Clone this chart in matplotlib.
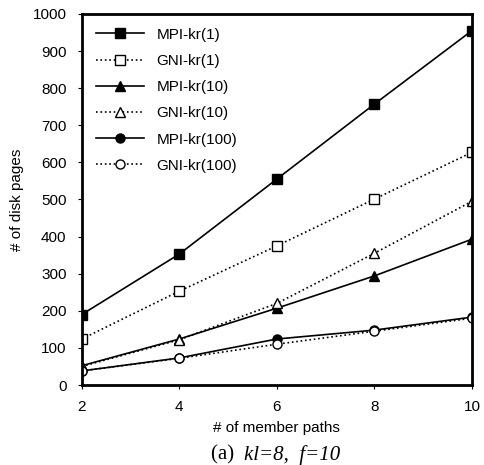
import matplotlib.pyplot as plt

x = [2, 4, 6, 8, 10]
mpi_1 = [190, 353, 555, 757, 955]
gni_1 = [124, 253, 375, 501, 627]
mpi_10 = [52, 124, 207, 294, 393]
gni_10 = [50, 122, 220, 355, 495]
mpi_100 = [38, 73, 124, 148, 183]
gni_100 = [38, 72, 110, 145, 180]

plt.rcParams['font.family'] = ['Liberation Sans', 'DejaVu Sans']

fig = plt.figure(figsize=(4.84, 4.65), dpi=100)
ax = fig.add_axes([0.169, 0.172, 0.806, 0.798])

ax.plot(x, mpi_1, 'k-s', ms=6.5, lw=1.2, label='MPI-kr(1)')
ax.plot(x, gni_1, 'k:s', ms=6.5, lw=1.2, mfc='white', label='GNI-kr(1)')
ax.plot(x, mpi_10, 'k-^', ms=6.5, lw=1.2, label='MPI-kr(10)')
ax.plot(x, gni_10, 'k:^', ms=6.5, lw=1.2, mfc='white', label='GNI-kr(10)')
ax.plot(x, mpi_100, 'k-o', ms=6.5, lw=1.2, label='MPI-kr(100)')
ax.plot(x, gni_100, 'k:o', ms=6.5, lw=1.2, mfc='white', label='GNI-kr(100)')

ax.set_xlim(2, 10)
ax.set_ylim(0, 1000)
ax.set_xticks(x)
ax.set_yticks(range(0, 1001, 100))
ax.tick_params(length=3, labelsize=11, pad=8)
for s in ax.spines.values():
    s.set_linewidth(2)

ax.set_xlabel('# of member paths', fontsize=11, labelpad=5)
ax.set_ylabel('# of disk pages', fontsize=11, labelpad=6)

ax.legend(loc='upper left', frameon=False, fontsize=11, handlelength=3.2,
          labelspacing=0.8, borderaxespad=0.5)

fig.text(0.505, 0.022, '(a)  ', family='Liberation Serif', fontsize=15,
         ha='right', va='center')
fig.text(0.505, 0.022, 'kl=8,  f=10', family='Liberation Serif', style='italic',
         fontsize=15, ha='left', va='center')

fig.savefig('out.png', dpi=100)
